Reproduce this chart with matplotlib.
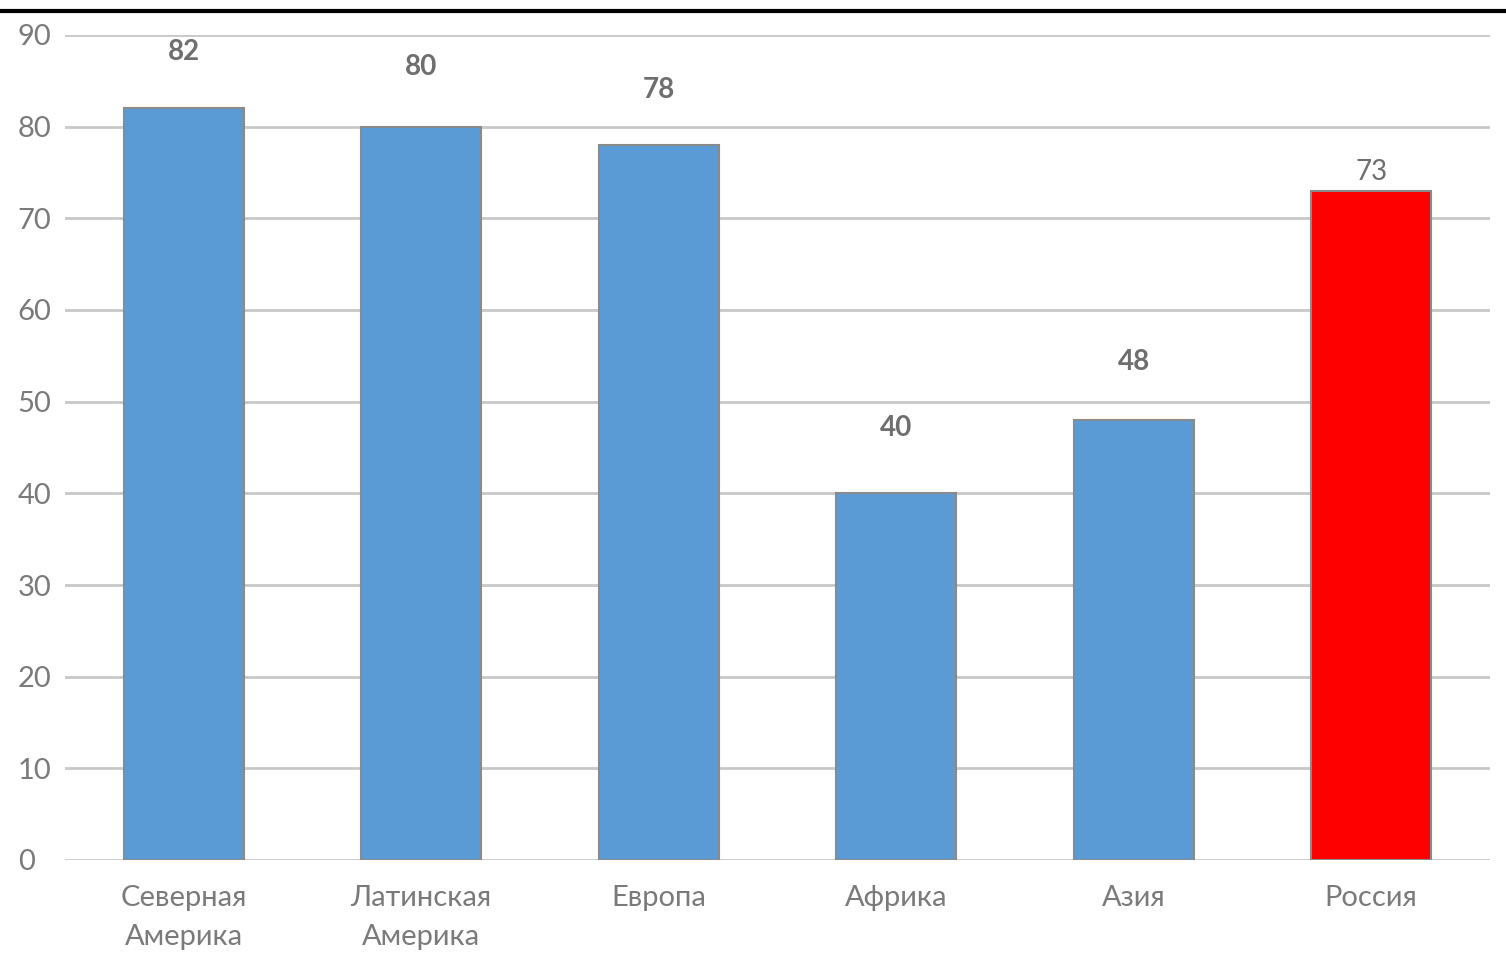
import numpy as np
import matplotlib.pyplot as plt
from matplotlib.lines import Line2D

# --- DADOS ---
regioes = ['Северная\nАмерика', 'Латинская\nАмерика', 'Европа', 'Африка', 'Азия', 'Россия']
valores = [82, 80, 78, 40, 48, 73]
cores = ['#5B9BD5'] * 5 + ['#FF0000']
negrito = [True, True, True, True, True, False]
# distância do rótulo ao topo da barra (pixels)
offsets = [56, 60, 55, 65, 58, 19]
yticks = [0, 10, 20, 30, 40, 50, 60, 70, 80, 90]

plt.rcParams['font.family'] = ['Lato', 'DejaVu Sans']
cinza = '#7a7a7a'

fig = plt.figure(figsize=(15.06, 9.77), dpi=100)
ax = fig.add_axes([65 / 1506, 1 - 860 / 977, (1490 - 65) / 1506, (860 - 35) / 977])

x = np.arange(len(regioes))
ax.bar(x, valores, width=0.505, color=cores, edgecolor='#8a8a8a', linewidth=1.5, zorder=3)

for xi, v, b, off in zip(x, valores, negrito, offsets):
    ax.annotate(str(v), (xi, v), xytext=(0, off * 0.72), textcoords='offset points',
                ha='center', va='center', fontsize=20, color='#6e6e6e',
                fontweight='bold' if b else 'normal')

ax.set_xlim(-0.5, 5.5)
ax.set_ylim(0, 90)
ax.set_yticks(yticks)
ax.set_yticklabels([str(t) for t in yticks], fontsize=21, color=cinza, ha='left')
ax.tick_params(axis='y', length=0, pad=34)
ax.set_xticks(x)
ax.set_xticklabels(regioes, fontsize=21, color=cinza, linespacing=1.6)
ax.tick_params(axis='x', length=0, pad=18)

ax.yaxis.grid(True, color='#c8c8c8', linewidth=2.0, zorder=0)
ax.set_axisbelow(True)
for s in ax.spines.values():
    s.set_visible(False)

# linha preta no topo
fig.add_artist(Line2D([0, 1], [1 - 11 / 977, 1 - 11 / 977], color='black', linewidth=3,
                      transform=fig.transFigure))

plt.savefig('out.png', dpi=100)
